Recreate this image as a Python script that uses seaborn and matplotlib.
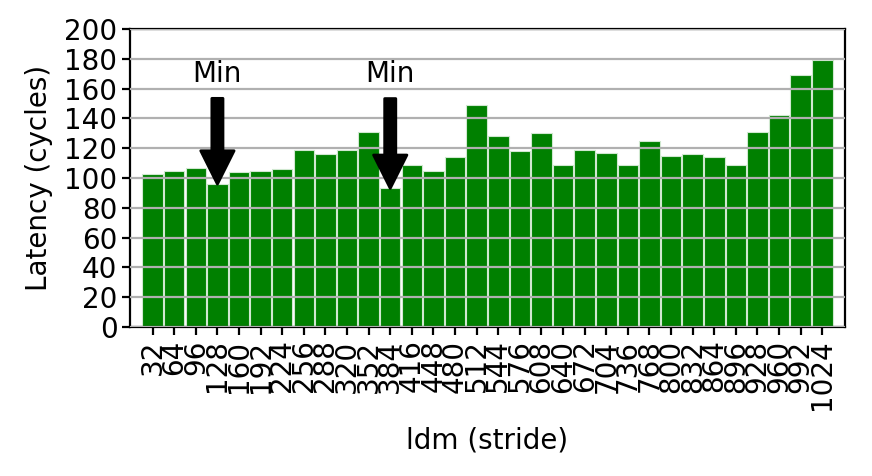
import numpy as np
import pandas as pd
import seaborn as sns
import matplotlib.pyplot as plt

# ldm stride values and measured latency
strides = list(range(32, 1025, 32))
latency = [103, 105, 107, 96, 104, 105, 106, 119, 116, 119, 131, 93,
           109, 105, 114, 149, 128, 118, 130, 109, 119, 117, 109, 125,
           115, 116, 114, 109, 131, 142, 169, 179]

# bars to mark as minimum
min_strides = [128, 384]

df = pd.DataFrame({"ldm": strides, "latency": latency})

plt.rcParams['font.family'] = ['DejaVu Sans']
fig, ax = plt.subplots(figsize=(4.36, 2.38), dpi=200)
fig.subplots_adjust(left=0.149, right=0.969, top=0.939, bottom=0.313)

sns.barplot(data=df, x="ldm", y="latency", color="green", saturation=1,
            width=0.95, edgecolor="#d0e8d0", linewidth=0.4, ax=ax)

ax.set_axisbelow(False)
ax.yaxis.grid(True, color="#b0b0b0", linewidth=0.8)
ax.set_ylim(0, 200)
ax.set_yticks(range(0, 201, 20))
ax.set_xlim(-1.05, len(strides) + 0.05)
ax.tick_params(axis="x", rotation=90, labelsize=10, length=3, pad=1.5)
ax.tick_params(axis="y", labelsize=10, length=3, pad=1.5)
ax.set_xlabel("ldm (stride)", fontsize=10, labelpad=6)
ax.set_ylabel("Latency (cycles)", fontsize=10)

for s in min_strides:
    i = strides.index(s)
    ax.annotate("Min", xy=(i, latency[i] - 3.5), xytext=(i, 170), ha="center",
                va="center", fontsize=10,
                arrowprops=dict(facecolor="black", shrink=0.05))

for sp in ax.spines.values():
    sp.set_visible(True)
    sp.set_linewidth(0.8)

plt.savefig("out.png", dpi=200)
